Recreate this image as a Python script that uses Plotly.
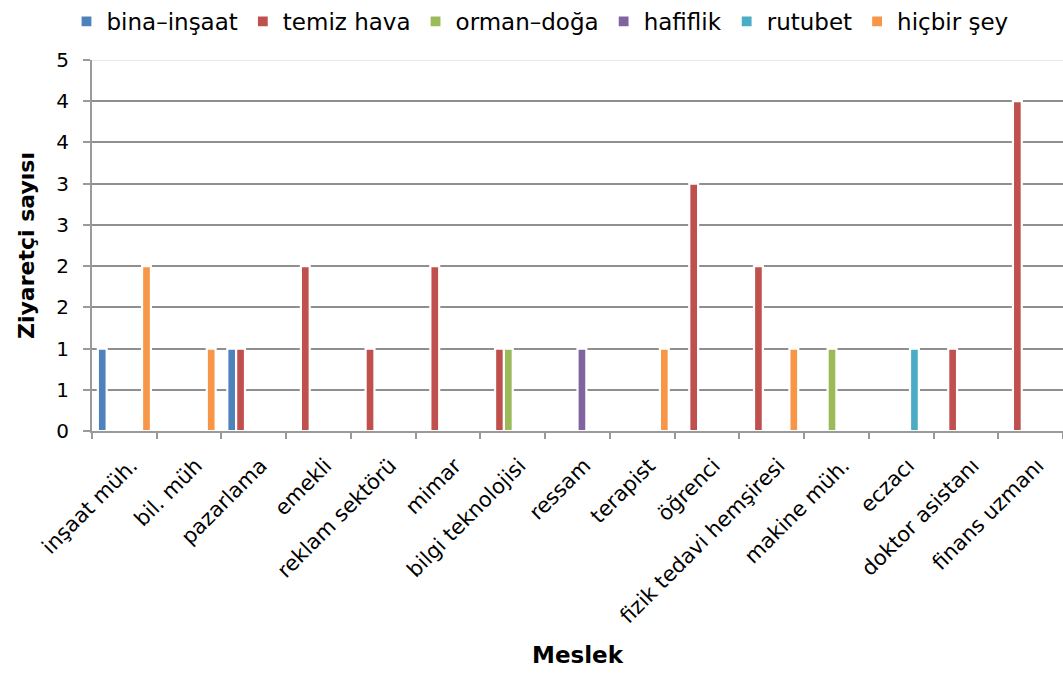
import plotly.graph_objects as go

categories = ["inşaat müh.", "bil. müh", "pazarlama", "emekli", "reklam sektörü", "mimar",
              "bilgi teknolojisi", "ressam", "terapist", "öğrenci", "fizik tedavi hemşiresi",
              "makine müh.", "eczacı", "doktor asistanı", "finans uzmanı"]

series_names = ["bina–inşaat", "temiz hava", "orman–doğa", "hafiflik", "rutubet", "hiçbir şey"]

bina_insaat = [1, None, 1, None, None, None, None, None, None, None, None, None, None, None, None]
temiz_hava = [None, None, 1, 2, 1, 2, 1, None, None, 3, 2, None, None, 1, 4]
orman_doga = [None, None, None, None, None, None, 1, None, None, None, None, 1, None, None, None]
hafiflik = [None, None, None, None, None, None, None, 1, None, None, None, None, None, None, None]
rutubet = [None, None, None, None, None, None, None, None, None, None, None, None, 1, None, None]
hicbir_sey = [2, 1, None, None, None, None, None, None, 1, None, 1, None, None, None, None]

series_values = [bina_insaat, temiz_hava, orman_doga, hafiflik, rutubet, hicbir_sey]
colors = ["#4F81BD", "#C0504D", "#9BBB59", "#8064A2", "#4BACC6", "#F79646"]

y_tickvals = [0, 0.5, 1, 1.5, 2, 2.5, 3, 3.5, 4, 4.5]
y_ticktext = ["0", "1", "1", "2", "2", "3", "3", "4", "4", "5"]

FONT = "DejaVu Sans"

fig = go.Figure()
for name, vals, col in zip(series_names, series_values, colors):
    fig.add_trace(go.Bar(
        x=categories, y=vals, name=name,
        marker=dict(color=col, line=dict(color="white", width=2.2)),
    ))

fig.update_layout(
    width=1063, height=673,
    barmode="group", bargap=0.18, bargroupgap=0,
    plot_bgcolor="white", paper_bgcolor="white",
    margin=dict(l=92, r=0, t=60, b=242, autoexpand=False),
    font=dict(family=FONT, color="black"),
    legend=dict(
        orientation="h", xref="container", yref="container",
        x=0.508, xanchor="center", y=1.0, yanchor="top",
        font=dict(family=FONT, size=23), itemwidth=30,
        traceorder="normal",
    ),
    xaxis=dict(
        type="category", tickson="boundaries", ticks="outside", ticklen=6,
        tickcolor="#9a9a9a", tickwidth=2,
        showline=True, linecolor="#9a9a9a", linewidth=2,
        tickangle=-45, tickfont=dict(family=FONT, size=21),
        ticklabelstandoff=12, ticklabelshift=7,
        showgrid=False, automargin=False,
        title=dict(text="<b>Meslek</b>", font=dict(family=FONT, size=23), standoff=20),
    ),
    yaxis=dict(
        range=[0, 4.5], tickvals=y_tickvals, ticktext=y_ticktext,
        ticks="outside", ticklen=7, tickcolor="#9a9a9a", tickwidth=2,
        showline=True, linecolor="#9a9a9a", linewidth=2,
        showgrid=True, gridcolor="#8f8f8f", gridwidth=2,
        zeroline=False, tickfont=dict(family=FONT, size=20),
        ticklabelstandoff=10,
        automargin=False,
        title=dict(text="<b>Ziyaretçi sayısı</b>", font=dict(family=FONT, size=22), standoff=16),
    ),
)

fig.add_shape(type="line", xref="paper", yref="y", x0=0, x1=1, y0=4.5, y1=4.5,
              line=dict(color="#e2e2e2", width=1.5), layer="above")

fig.write_html("out.html", config={"displayModeBar": False},
               post_script="document.body.style.margin='0';document.body.style.overflow='hidden';")
